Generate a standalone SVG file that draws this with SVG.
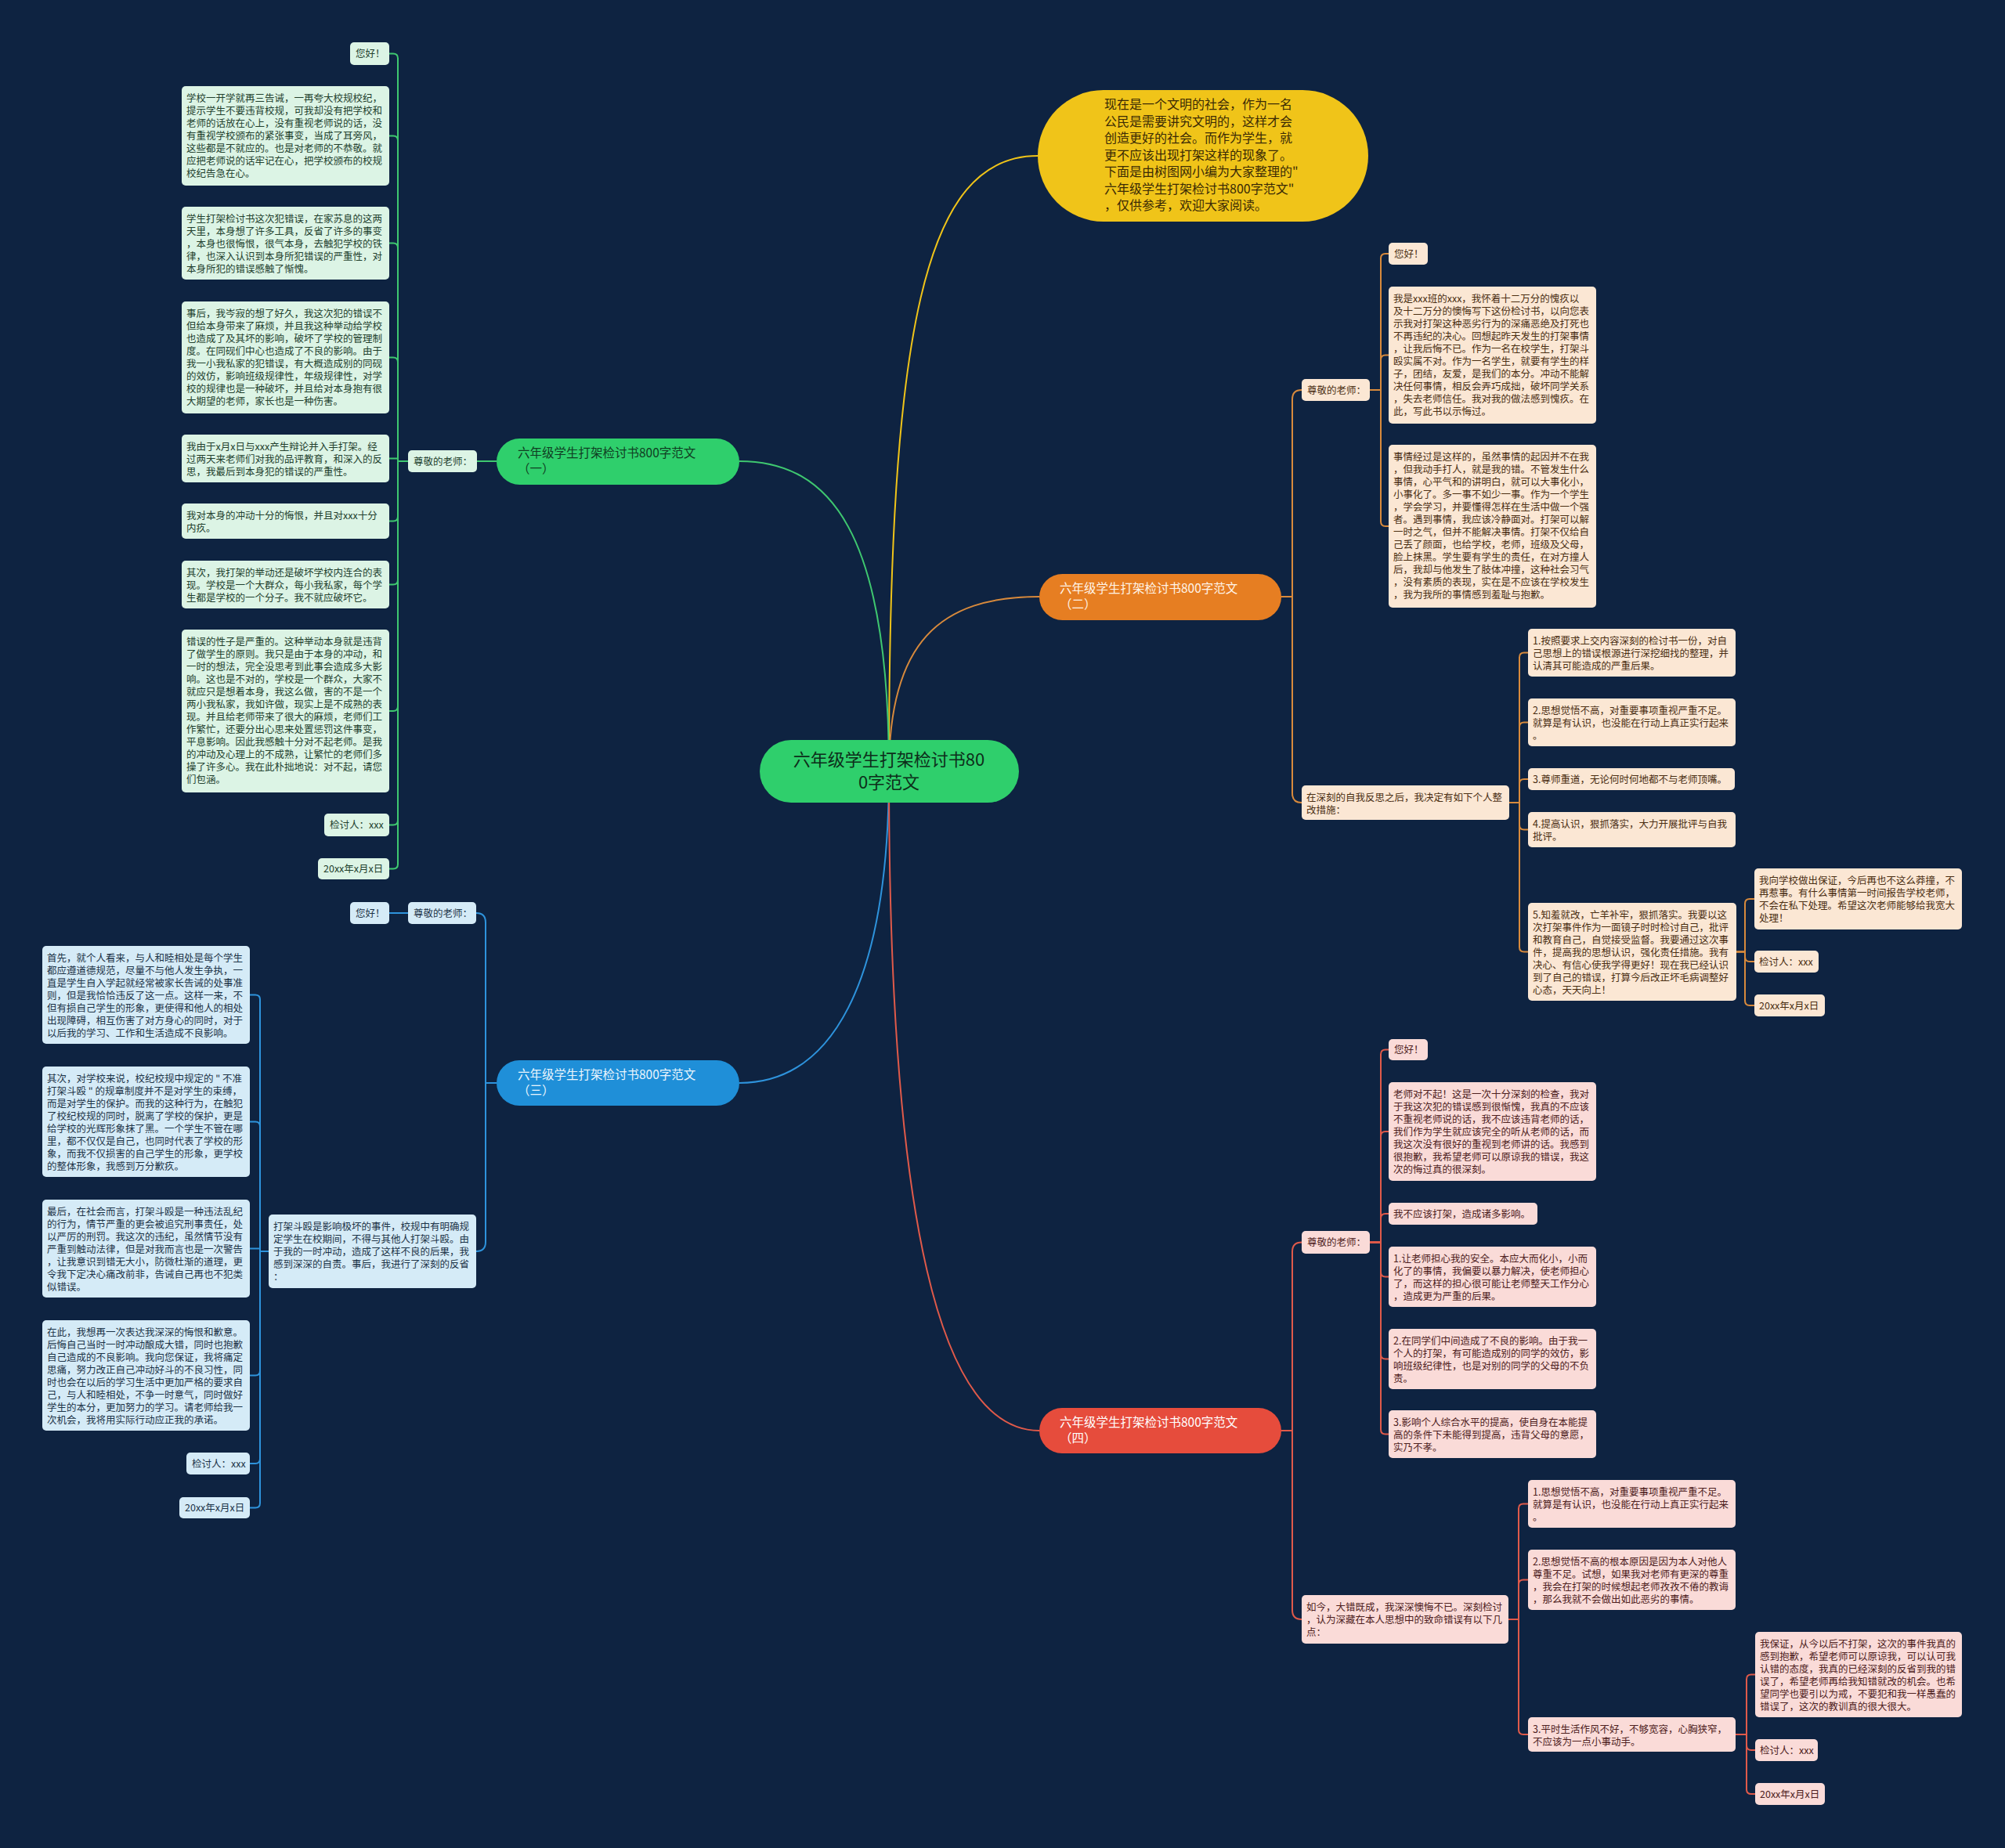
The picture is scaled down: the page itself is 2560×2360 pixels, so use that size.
<svg xmlns="http://www.w3.org/2000/svg" width="2560" height="2360" viewBox="0 0 2560 2360">
<style>
text{font-family:"Noto Sans CJK SC","Noto Sans",sans-serif;font-size:12.5px}
.lg{fill:#dcf4e5}.tg{fill:#22402d}
.lb{fill:#d5ebf7}.tb{fill:#1c3347}
.lo{fill:#fbe7d4}.to{fill:#4a2e12}
.lr{fill:#fadbd8}.tr{fill:#4d2020}
.cg{fill:none;stroke:#3fc870;stroke-width:2}
.cb{fill:none;stroke:#2e93dc;stroke-width:2}
.co{fill:none;stroke:#d88a3c;stroke-width:2}
.cr{fill:none;stroke:#e05a4a;stroke-width:2}
.cy{fill:none;stroke:#f0c419;stroke-width:2}
.bt{font-size:15.5px}
</style>
<rect width="2560" height="2360" fill="#0e2341"/>
<g id="connectors">
<path class="cy" d="M1135 985C1135 420 1180 199 1325 199"/>
<path class="cg" d="M1135 985C1135 680 1060 589 944 589"/>
<path class="co" d="M1135 985C1135 820 1200 762 1327 762"/>
<path class="cb" d="M1135 985C1135 1260 1060 1383 944 1383"/>
<path class="cr" d="M1135 985C1135 1560 1200 1827 1327 1827"/>
<!-- branch 1 -->
<path class="cg" d="M634 589H609"/>
<path class="cg" d="M521 589H508V74.5Q508 68.5 502 68.5H497"/>
<path class="cg" d="M521 589H508V179.5Q508 173.5 502 173.5H497"/>
<path class="cg" d="M521 589H508V316.5Q508 310.5 502 310.5H497"/>
<path class="cg" d="M521 589H508V462.5Q508 456.5 502 456.5H497"/>
<path class="cg" d="M521 589H508V585.5H497"/>
<path class="cg" d="M521 589H508V659.5Q508 665.5 502 665.5H497"/>
<path class="cg" d="M521 589H508V740.5Q508 746.5 502 746.5H497"/>
<path class="cg" d="M521 589H508V902Q508 908 502 908H497"/>
<path class="cg" d="M521 589H508V1047.5Q508 1053.5 502 1053.5H497"/>
<path class="cg" d="M521 589H508V1103.5Q508 1109.5 502 1109.5H497"/>
<!-- branch 3 -->
<path class="cb" d="M634 1383H620V1178Q620 1166 608 1166"/>
<path class="cb" d="M634 1383H620V1586Q620 1598 608 1598"/>
<path class="cb" d="M521 1166H497"/>
<path class="cb" d="M343 1598H332V1276.5Q332 1270.5 326 1270.5H319"/>
<path class="cb" d="M343 1598H332V1438.5Q332 1432.5 326 1432.5H319"/>
<path class="cb" d="M343 1598H332V1594.5H319"/>
<path class="cb" d="M343 1598H332V1750.5Q332 1756.5 326 1756.5H319"/>
<path class="cb" d="M343 1598H332V1863Q332 1869 326 1869H319"/>
<path class="cb" d="M343 1598H332V1919.5Q332 1925.5 326 1925.5H319"/>
<!-- branch 2 -->
<path class="co" d="M1636 762H1650V510Q1650 498 1662 498"/>
<path class="co" d="M1636 762H1650V1013Q1650 1025 1662 1025"/>
<path class="co" d="M1749 498H1763V330Q1763 324 1769 324H1773"/>
<path class="co" d="M1749 498H1763V459.5Q1763 453.5 1769 453.5H1773"/>
<path class="co" d="M1749 498H1763V666Q1763 672 1769 672H1773"/>
<path class="co" d="M1927 1025H1940V839.5Q1940 833.5 1946 833.5H1951"/>
<path class="co" d="M1927 1025H1940V928.5Q1940 922.5 1946 922.5H1951"/>
<path class="co" d="M1927 1025H1940V1001Q1940 995 1946 995H1951"/>
<path class="co" d="M1927 1025H1940V1053.5Q1940 1059.5 1946 1059.5H1951"/>
<path class="co" d="M1927 1025H1940V1209.5Q1940 1215.5 1946 1215.5H1951"/>
<path class="co" d="M2217 1215.5H2228V1154Q2228 1148 2234 1148H2240"/>
<path class="co" d="M2217 1215.5H2228V1222Q2228 1228 2234 1228H2240"/>
<path class="co" d="M2217 1215.5H2228V1278Q2228 1284 2234 1284H2240"/>
<!-- branch 4 -->
<path class="cr" d="M1636 1827H1650V1598.5Q1650 1586.5 1662 1586.5"/>
<path class="cr" d="M1636 1827H1650V2056Q1650 2068 1662 2068"/>
<path class="cr" d="M1749 1586.5H1763V1346.5Q1763 1340.5 1769 1340.5H1773"/>
<path class="cr" d="M1749 1586.5H1763V1451Q1763 1445 1769 1445H1773"/>
<path class="cr" d="M1749 1586.5H1763V1556Q1763 1550 1769 1550H1773"/>
<path class="cr" d="M1749 1586.5H1763V1624.5Q1763 1630.5 1769 1630.5H1773"/>
<path class="cr" d="M1749 1586.5H1763V1729.5Q1763 1735.5 1769 1735.5H1773"/>
<path class="cr" d="M1749 1586.5H1763V1825.5Q1763 1831.5 1769 1831.5H1773"/>
<path class="cr" d="M1926 2068H1939V1926.5Q1939 1920.5 1945 1920.5H1951"/>
<path class="cr" d="M1926 2068H1939V2023.5Q1939 2017.5 1945 2017.5H1951"/>
<path class="cr" d="M1926 2068H1939V2209Q1939 2215 1945 2215H1951"/>
<path class="cr" d="M2216 2215H2230V2144.5Q2230 2138.5 2236 2138.5H2241"/>
<path class="cr" d="M2216 2215H2230V2229Q2230 2235 2236 2235H2241"/>
<path class="cr" d="M2216 2215H2230V2285Q2230 2291 2236 2291H2241"/>
</g>

<g id="center"><rect x="970" y="945" width="331" height="80" rx="40" fill="#2fcf6c"/>
<text x="1135" y="978" text-anchor="middle" style="font-size:22px" fill="#0d2e1a">六年级学生打架检讨书80</text>
<text x="1135" y="1007" text-anchor="middle" style="font-size:22px" fill="#0d2e1a">0字范文</text></g>

<g id="intro"><rect x="1325" y="115" width="422" height="168" rx="84" fill="#f0c419"/>
<text x="1410" y="139" style="font-size:16px" fill="#3a2a05"><tspan x="1410">现在是一个文明的社会，作为一名</tspan><tspan x="1410" dy="21.5">公民是需要讲究文明的，这样才会</tspan><tspan x="1410" dy="21.5">创造更好的社会。而作为学生，就</tspan><tspan x="1410" dy="21.5">更不应该出现打架这样的现象了。</tspan><tspan x="1410" dy="21.5">下面是由树图网小编为大家整理的"</tspan><tspan x="1410" dy="21.5">六年级学生打架检讨书800字范文"</tspan><tspan x="1410" dy="21.5">，仅供参考，欢迎大家阅读。</tspan></text></g>

<g id="b1"><rect x="634" y="560" width="310" height="59" rx="29.5" fill="#2fcf6c"/>
<text class="bt" x="661" y="584" fill="#0f3d22"><tspan x="661">六年级学生打架检讨书800字范文</tspan><tspan x="661" dy="20">（一）</tspan></text></g>
<g id="b2"><rect x="1327" y="733" width="309" height="59" rx="29.5" fill="#e67e22"/>
<text class="bt" x="1353" y="757" fill="#fff4e8"><tspan x="1353">六年级学生打架检讨书800字范文</tspan><tspan x="1353" dy="20">（二）</tspan></text></g>
<g id="b3"><rect x="634" y="1354" width="310" height="58" rx="29" fill="#1f8fd8"/>
<text class="bt" x="661" y="1378" fill="#eaf5fd"><tspan x="661">六年级学生打架检讨书800字范文</tspan><tspan x="661" dy="20">（三）</tspan></text></g>
<g id="b4"><rect x="1327" y="1798" width="309" height="58" rx="29" fill="#e64c3c"/>
<text class="bt" x="1353" y="1822" fill="#ffffff"><tspan x="1353">六年级学生打架检讨书800字范文</tspan><tspan x="1353" dy="20">（四）</tspan></text></g>

<!-- branch 1 leaves -->
<g id="b1-teacher"><rect class="lg" x="521" y="575" width="88" height="28" rx="5"/><text class="tg" x="528" y="594">尊敬的老师：</text></g>
<g id="b1-hello"><rect class="lg" x="447" y="54" width="50" height="29" rx="5"/><text class="tg" x="454" y="73">您好！</text></g>
<g id="b1-a"><rect class="lg" x="232" y="110" width="265" height="127" rx="5"/><text class="tg" x="238" y="130"><tspan x="238">学校一开学就再三告诫，一再夸大校规校纪，</tspan><tspan x="238" dy="16">提示学生不要违背校规，可我却没有把学校和</tspan><tspan x="238" dy="16">老师的话放在心上，没有重视老师说的话，没</tspan><tspan x="238" dy="16">有重视学校颁布的紧张事变，当成了耳旁风，</tspan><tspan x="238" dy="16">这些都是不就应的。也是对老师的不恭敬。就</tspan><tspan x="238" dy="16">应把老师说的话牢记在心，把学校颁布的校规</tspan><tspan x="238" dy="16">校纪告急在心。</tspan></text></g>
<g id="b1-b"><rect class="lg" x="232" y="264" width="265" height="93" rx="5"/><text class="tg" x="238" y="284"><tspan x="238">学生打架检讨书这次犯错误，在家苏息的这两</tspan><tspan x="238" dy="16">天里，本身想了许多工具，反省了许多的事变</tspan><tspan x="238" dy="16">，本身也很悔恨，很气本身，去触犯学校的铁</tspan><tspan x="238" dy="16">律，也深入认识到本身所犯错误的严重性，对</tspan><tspan x="238" dy="16">本身所犯的错误感触了惭愧。</tspan></text></g>
<g id="b1-c"><rect class="lg" x="232" y="385" width="265" height="143" rx="5"/><text class="tg" x="238" y="405"><tspan x="238">事后，我岑寂的想了好久，我这次犯的错误不</tspan><tspan x="238" dy="16">但给本身带来了麻烦，并且我这种举动给学校</tspan><tspan x="238" dy="16">也造成了及其坏的影响，破坏了学校的管理制</tspan><tspan x="238" dy="16">度。在同砚们中心也造成了不良的影响。由于</tspan><tspan x="238" dy="16">我一小我私家的犯错误，有大概造成别的同砚</tspan><tspan x="238" dy="16">的效仿，影响班级规律性，年级规律性，对学</tspan><tspan x="238" dy="16">校的规律也是一种破坏，并且给对本身抱有很</tspan><tspan x="238" dy="16">大期望的老师，家长也是一种伤害。</tspan></text></g>
<g id="b1-d"><rect class="lg" x="232" y="555" width="265" height="61" rx="5"/><text class="tg" x="238" y="575"><tspan x="238">我由于x月x日与xxx产生辩论并入手打架。经</tspan><tspan x="238" dy="16">过两天来老师们对我的品评教育，和深入的反</tspan><tspan x="238" dy="16">思，我最后到本身犯的错误的严重性。</tspan></text></g>
<g id="b1-e"><rect class="lg" x="232" y="643" width="265" height="45" rx="5"/><text class="tg" x="238" y="663"><tspan x="238">我对本身的冲动十分的悔恨，并且对xxx十分</tspan><tspan x="238" dy="16">内疚。</tspan></text></g>
<g id="b1-f"><rect class="lg" x="232" y="716" width="265" height="61" rx="5"/><text class="tg" x="238" y="736"><tspan x="238">其次，我打架的举动还是破坏学校内连合的表</tspan><tspan x="238" dy="16">现。学校是一个大群众，每小我私家，每个学</tspan><tspan x="238" dy="16">生都是学校的一个分子。我不就应破坏它。</tspan></text></g>
<g id="b1-g"><rect class="lg" x="232" y="804" width="265" height="208" rx="5"/><text class="tg" x="238" y="824"><tspan x="238">错误的性子是严重的。这种举动本身就是违背</tspan><tspan x="238" dy="16">了做学生的原则。我只是由于本身的冲动，和</tspan><tspan x="238" dy="16">一时的想法，完全没思考到此事会造成多大影</tspan><tspan x="238" dy="16">响。这也是不对的，学校是一个群众，大家不</tspan><tspan x="238" dy="16">就应只是想着本身，我这么做，害的不是一个</tspan><tspan x="238" dy="16">两小我私家，我如许做，现实上是不成熟的表</tspan><tspan x="238" dy="16">现。并且给老师带来了很大的麻烦，老师们工</tspan><tspan x="238" dy="16">作繁忙，还要分出心思来处置惩罚这件事变，</tspan><tspan x="238" dy="16">平息影响。因此我感触十分对不起老师。是我</tspan><tspan x="238" dy="16">的冲动及心理上的不成熟，让繁忙的老师们多</tspan><tspan x="238" dy="16">操了许多心。我在此朴拙地说：对不起，请您</tspan><tspan x="238" dy="16">们包涵。</tspan></text></g>
<g id="b1-sign"><rect class="lg" x="414" y="1039" width="83" height="29" rx="5"/><text class="tg" x="421" y="1058">检讨人：xxx</text></g>
<g id="b1-date"><rect class="lg" x="406" y="1096" width="91" height="27" rx="5"/><text class="tg" x="413" y="1114">20xx年x月x日</text></g>

<!-- branch 3 leaves -->
<g id="b3-hello"><rect class="lb" x="447" y="1152" width="50" height="28" rx="5"/><text class="tb" x="454" y="1171">您好！</text></g>
<g id="b3-teacher"><rect class="lb" x="521" y="1152" width="87" height="28" rx="5"/><text class="tb" x="528" y="1171">尊敬的老师：</text></g>
<g id="b3-main"><rect class="lb" x="343" y="1551" width="265" height="94" rx="5"/><text class="tb" x="349" y="1571"><tspan x="349">打架斗殴是影响极坏的事件，校规中有明确规</tspan><tspan x="349" dy="16">定学生在校期间，不得与其他人打架斗殴。由</tspan><tspan x="349" dy="16">于我的一时冲动，造成了这样不良的后果，我</tspan><tspan x="349" dy="16">感到深深的自责。事后，我进行了深刻的反省</tspan><tspan x="349" dy="16">：</tspan></text></g>
<g id="b3-a"><rect class="lb" x="54" y="1208" width="265" height="125" rx="5"/><text class="tb" x="60" y="1228"><tspan x="60">首先，就个人看来，与人和睦相处是每个学生</tspan><tspan x="60" dy="16">都应遵道德规范，尽量不与他人发生争执，一</tspan><tspan x="60" dy="16">直是学生自入学起就经常被家长告诫的处事准</tspan><tspan x="60" dy="16">则，但是我恰恰违反了这一点。这样一来，不</tspan><tspan x="60" dy="16">但有损自己学生的形象，更使得和他人的相处</tspan><tspan x="60" dy="16">出现障碍，相互伤害了对方身心的同时，对于</tspan><tspan x="60" dy="16">以后我的学习、工作和生活造成不良影响。</tspan></text></g>
<g id="b3-b"><rect class="lb" x="54" y="1362" width="265" height="141" rx="5"/><text class="tb" x="60" y="1382"><tspan x="60">其次，对学校来说，校纪校规中规定的 " 不准</tspan><tspan x="60" dy="16">打架斗殴 " 的规章制度并不是对学生的束缚，</tspan><tspan x="60" dy="16">而是对学生的保护。而我的这种行为，在触犯</tspan><tspan x="60" dy="16">了校纪校规的同时，脱离了学校的保护，更是</tspan><tspan x="60" dy="16">给学校的光辉形象抹了黑。一个学生不管在哪</tspan><tspan x="60" dy="16">里，都不仅仅是自己，也同时代表了学校的形</tspan><tspan x="60" dy="16">象，而我不仅损害的自己学生的形象，更学校</tspan><tspan x="60" dy="16">的整体形象，我感到万分歉疚。</tspan></text></g>
<g id="b3-c"><rect class="lb" x="54" y="1532" width="265" height="125" rx="5"/><text class="tb" x="60" y="1552"><tspan x="60">最后，在社会而言，打架斗殴是一种违法乱纪</tspan><tspan x="60" dy="16">的行为，情节严重的更会被追究刑事责任，处</tspan><tspan x="60" dy="16">以严厉的刑罚。我这次的违纪，虽然情节没有</tspan><tspan x="60" dy="16">严重到触动法律，但是对我而言也是一次警告</tspan><tspan x="60" dy="16">，让我意识到错无大小，防微杜渐的道理，更</tspan><tspan x="60" dy="16">令我下定决心痛改前非，告诫自己再也不犯类</tspan><tspan x="60" dy="16">似错误。</tspan></text></g>
<g id="b3-d"><rect class="lb" x="54" y="1686" width="265" height="141" rx="5"/><text class="tb" x="60" y="1706"><tspan x="60">在此，我想再一次表达我深深的悔恨和歉意。</tspan><tspan x="60" dy="16">后悔自己当时一时冲动酿成大错，同时也抱歉</tspan><tspan x="60" dy="16">自己造成的不良影响。我向您保证，我将痛定</tspan><tspan x="60" dy="16">思痛，努力改正自己冲动好斗的不良习性，同</tspan><tspan x="60" dy="16">时也会在以后的学习生活中更加严格的要求自</tspan><tspan x="60" dy="16">己，与人和睦相处，不争一时意气，同时做好</tspan><tspan x="60" dy="16">学生的本分，更加努力的学习。请老师给我一</tspan><tspan x="60" dy="16">次机会，我将用实际行动应正我的承诺。</tspan></text></g>
<g id="b3-sign"><rect class="lb" x="238" y="1855" width="81" height="28" rx="5"/><text class="tb" x="245" y="1874">检讨人：xxx</text></g>
<g id="b3-date"><rect class="lb" x="229" y="1912" width="90" height="27" rx="5"/><text class="tb" x="236" y="1930">20xx年x月x日</text></g>

<!-- branch 2 leaves -->
<g id="b2-teacher"><rect class="lo" x="1662" y="484" width="87" height="28" rx="5"/><text class="to" x="1669" y="503">尊敬的老师：</text></g>
<g id="b2-hello"><rect class="lo" x="1773" y="310" width="50" height="28" rx="5"/><text class="to" x="1780" y="329">您好！</text></g>
<g id="b2-a"><rect class="lo" x="1773" y="366" width="265" height="175" rx="5"/><text class="to" x="1779" y="386"><tspan x="1779">我是xxx班的xxx，我怀着十二万分的愧疚以</tspan><tspan x="1779" dy="16">及十二万分的懊悔写下这份检讨书，以向您表</tspan><tspan x="1779" dy="16">示我对打架这种恶劣行为的深痛恶绝及打死也</tspan><tspan x="1779" dy="16">不再违纪的决心。回想起昨天发生的打架事情</tspan><tspan x="1779" dy="16">，让我后悔不已。作为一名在校学生，打架斗</tspan><tspan x="1779" dy="16">殴实属不对。作为一名学生，就要有学生的样</tspan><tspan x="1779" dy="16">子，团结，友爱，是我们的本分。冲动不能解</tspan><tspan x="1779" dy="16">决任何事情，相反会弄巧成拙，破坏同学关系</tspan><tspan x="1779" dy="16">，失去老师信任。我对我的做法感到愧疚。在</tspan><tspan x="1779" dy="16">此，写此书以示悔过。</tspan></text></g>
<g id="b2-b"><rect class="lo" x="1773" y="568" width="265" height="208" rx="5"/><text class="to" x="1779" y="588"><tspan x="1779">事情经过是这样的，虽然事情的起因并不在我</tspan><tspan x="1779" dy="16">，但我动手打人，就是我的错。不管发生什么</tspan><tspan x="1779" dy="16">事情，心平气和的讲明白，就可以大事化小，</tspan><tspan x="1779" dy="16">小事化了。多一事不如少一事。作为一个学生</tspan><tspan x="1779" dy="16">，学会学习，并要懂得怎样在生活中做一个强</tspan><tspan x="1779" dy="16">者。遇到事情，我应该冷静面对。打架可以解</tspan><tspan x="1779" dy="16">一时之气，但并不能解决事情。打架不仅给自</tspan><tspan x="1779" dy="16">己丢了颜面，也给学校，老师，班级及父母，</tspan><tspan x="1779" dy="16">脸上抹黑。学生要有学生的责任，在对方撞人</tspan><tspan x="1779" dy="16">后，我却与他发生了肢体冲撞，这种社会习气</tspan><tspan x="1779" dy="16">，没有素质的表现，实在是不应该在学校发生</tspan><tspan x="1779" dy="16">，我为我所的事情感到羞耻与抱歉。</tspan></text></g>
<g id="b2-reflect"><rect class="lo" x="1662" y="1003" width="265" height="44" rx="5"/><text class="to" x="1668" y="1023"><tspan x="1668">在深刻的自我反思之后，我决定有如下个人整</tspan><tspan x="1668" dy="16">改措施：</tspan></text></g>
<g id="b2-i1"><rect class="lo" x="1951" y="803" width="265" height="61" rx="5"/><text class="to" x="1957" y="823"><tspan x="1957">1.按照要求上交内容深刻的检讨书一份，对自</tspan><tspan x="1957" dy="16">己思想上的错误根源进行深挖细找的整理，并</tspan><tspan x="1957" dy="16">认清其可能造成的严重后果。</tspan></text></g>
<g id="b2-i2"><rect class="lo" x="1951" y="892" width="265" height="61" rx="5"/><text class="to" x="1957" y="912"><tspan x="1957">2.思想觉悟不高，对重要事项重视严重不足。</tspan><tspan x="1957" dy="16">就算是有认识，也没能在行动上真正实行起来</tspan><tspan x="1957" dy="16">。</tspan></text></g>
<g id="b2-i3"><rect class="lo" x="1951" y="981" width="264" height="28" rx="5"/><text class="to" x="1957" y="1000">3.尊师重道，无论何时何地都不与老师顶嘴。</text></g>
<g id="b2-i4"><rect class="lo" x="1951" y="1037" width="265" height="45" rx="5"/><text class="to" x="1957" y="1057"><tspan x="1957">4.提高认识，狠抓落实，大力开展批评与自我</tspan><tspan x="1957" dy="16">批评。</tspan></text></g>
<g id="b2-i5"><rect class="lo" x="1951" y="1153" width="266" height="125" rx="5"/><text class="to" x="1957" y="1173"><tspan x="1957">5.知羞就改，亡羊补牢，狠抓落实。我要以这</tspan><tspan x="1957" dy="16">次打架事件作为一面镜子时时检讨自己，批评</tspan><tspan x="1957" dy="16">和教育自己，自觉接受监督。我要通过这次事</tspan><tspan x="1957" dy="16">件，提高我的思想认识，强化责任措施。我有</tspan><tspan x="1957" dy="16">决心、有信心使我学得更好！现在我已经认识</tspan><tspan x="1957" dy="16">到了自己的错误，打算今后改正坏毛病调整好</tspan><tspan x="1957" dy="16">心态，天天向上！</tspan></text></g>
<g id="b2-promise"><rect class="lo" x="2240" y="1109" width="265" height="78" rx="5"/><text class="to" x="2246" y="1129"><tspan x="2246">我向学校做出保证，今后再也不这么莽撞，不</tspan><tspan x="2246" dy="16">再惹事。有什么事情第一时间报告学校老师，</tspan><tspan x="2246" dy="16">不会在私下处理。希望这次老师能够给我宽大</tspan><tspan x="2246" dy="16">处理！</tspan></text></g>
<g id="b2-sign"><rect class="lo" x="2240" y="1214" width="82" height="28" rx="5"/><text class="to" x="2246" y="1233">检讨人：xxx</text></g>
<g id="b2-date"><rect class="lo" x="2240" y="1270" width="90" height="28" rx="5"/><text class="to" x="2246" y="1289">20xx年x月x日</text></g>

<!-- branch 4 leaves -->
<g id="b4-teacher"><rect class="lr" x="1662" y="1572" width="87" height="29" rx="5"/><text class="tr" x="1669" y="1591">尊敬的老师：</text></g>
<g id="b4-hello"><rect class="lr" x="1773" y="1327" width="50" height="27" rx="5"/><text class="tr" x="1780" y="1345">您好！</text></g>
<g id="b4-a"><rect class="lr" x="1773" y="1382" width="265" height="126" rx="5"/><text class="tr" x="1779" y="1402"><tspan x="1779">老师对不起！这是一次十分深刻的检查，我对</tspan><tspan x="1779" dy="16">于我这次犯的错误感到很惭愧，我真的不应该</tspan><tspan x="1779" dy="16">不重视老师说的话，我不应该违背老师的话，</tspan><tspan x="1779" dy="16">我们作为学生就应该完全的听从老师的话，而</tspan><tspan x="1779" dy="16">我这次没有很好的重视到老师讲的话。我感到</tspan><tspan x="1779" dy="16">很抱歉，我希望老师可以原谅我的错误，我这</tspan><tspan x="1779" dy="16">次的悔过真的很深刻。</tspan></text></g>
<g id="b4-b"><rect class="lr" x="1773" y="1536" width="190" height="28" rx="5"/><text class="tr" x="1779" y="1555">我不应该打架，造成诸多影响。</text></g>
<g id="b4-c"><rect class="lr" x="1773" y="1592" width="265" height="77" rx="5"/><text class="tr" x="1779" y="1612"><tspan x="1779">1.让老师担心我的安全。本应大而化小，小而</tspan><tspan x="1779" dy="16">化了的事情，我偏要以暴力解决，使老师担心</tspan><tspan x="1779" dy="16">了，而这样的担心很可能让老师整天工作分心</tspan><tspan x="1779" dy="16">，造成更为严重的后果。</tspan></text></g>
<g id="b4-d"><rect class="lr" x="1773" y="1697" width="265" height="77" rx="5"/><text class="tr" x="1779" y="1717"><tspan x="1779">2.在同学们中间造成了不良的影响。由于我一</tspan><tspan x="1779" dy="16">个人的打架，有可能造成别的同学的效仿，影</tspan><tspan x="1779" dy="16">响班级纪律性，也是对别的同学的父母的不负</tspan><tspan x="1779" dy="16">责。</tspan></text></g>
<g id="b4-e"><rect class="lr" x="1773" y="1801" width="265" height="61" rx="5"/><text class="tr" x="1779" y="1821"><tspan x="1779">3.影响个人综合水平的提高，使自身在本能提</tspan><tspan x="1779" dy="16">高的条件下未能得到提高，违背父母的意愿，</tspan><tspan x="1779" dy="16">实乃不孝。</tspan></text></g>
<g id="b4-now"><rect class="lr" x="1662" y="2037" width="264" height="62" rx="5"/><text class="tr" x="1668" y="2057"><tspan x="1668">如今，大错既成，我深深懊悔不已。深刻检讨</tspan><tspan x="1668" dy="16">，认为深藏在本人思想中的致命错误有以下几</tspan><tspan x="1668" dy="16">点：</tspan></text></g>
<g id="b4-i1"><rect class="lr" x="1951" y="1890" width="265" height="61" rx="5"/><text class="tr" x="1957" y="1910"><tspan x="1957">1.思想觉悟不高，对重要事项重视严重不足。</tspan><tspan x="1957" dy="16">就算是有认识，也没能在行动上真正实行起来</tspan><tspan x="1957" dy="16">。</tspan></text></g>
<g id="b4-i2"><rect class="lr" x="1951" y="1979" width="265" height="77" rx="5"/><text class="tr" x="1957" y="1999"><tspan x="1957">2.思想觉悟不高的根本原因是因为本人对他人</tspan><tspan x="1957" dy="16">尊重不足。试想，如果我对老师有更深的尊重</tspan><tspan x="1957" dy="16">，我会在打架的时候想起老师孜孜不倦的教诲</tspan><tspan x="1957" dy="16">，那么我就不会做出如此恶劣的事情。</tspan></text></g>
<g id="b4-i3"><rect class="lr" x="1951" y="2193" width="265" height="44" rx="5"/><text class="tr" x="1957" y="2213"><tspan x="1957">3.平时生活作风不好，不够宽容，心胸狭窄，</tspan><tspan x="1957" dy="16">不应该为一点小事动手。</tspan></text></g>
<g id="b4-promise"><rect class="lr" x="2241" y="2084" width="264" height="109" rx="5"/><text class="tr" x="2247" y="2104"><tspan x="2247">我保证，从今以后不打架，这次的事件我真的</tspan><tspan x="2247" dy="16">感到抱歉，希望老师可以原谅我，可以认可我</tspan><tspan x="2247" dy="16">认错的态度，我真的已经深刻的反省到我的错</tspan><tspan x="2247" dy="16">误了，希望老师再给我知错就改的机会。也希</tspan><tspan x="2247" dy="16">望同学也要引以为戒，不要犯和我一样愚蠢的</tspan><tspan x="2247" dy="16">错误了，这次的教训真的很大很大。</tspan></text></g>
<g id="b4-sign"><rect class="lr" x="2241" y="2221" width="80" height="28" rx="5"/><text class="tr" x="2247" y="2240">检讨人：xxx</text></g>
<g id="b4-date"><rect class="lr" x="2241" y="2277" width="89" height="28" rx="5"/><text class="tr" x="2247" y="2296">20xx年x月x日</text></g>
</svg>
